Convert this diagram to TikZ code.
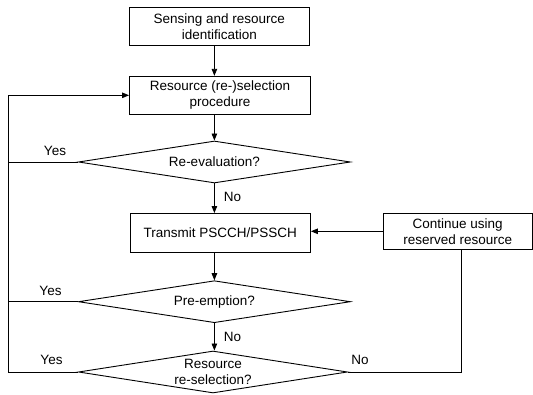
\documentclass[tikz,border=0pt]{standalone}
\usepackage{fontspec}
\setmainfont{Liberation Sans}
\usetikzlibrary{shapes.geometric,arrows.meta}
\begin{document}
\begin{tikzpicture}[x=1pt,y=-1pt,
  every node/.style={font=\fontsize{13.5}{16}\selectfont},
  procbox/.style={draw,line width=0.9pt,rectangle,align=center,inner sep=0pt},
  decision/.style={draw,line width=0.9pt,diamond,inner sep=0pt,minimum width=272pt,minimum height=42pt},
  conn/.style={line width=0.9pt},
  arr/.style={conn,-{Triangle[length=7pt,width=5.5pt]}},
  lbl/.style={inner sep=0pt}]
\useasboundingbox (0,0) rectangle (533,395);
\node[procbox,minimum width=179.5pt,minimum height=38pt] (b1) at (219.3,26.4) {Sensing and resource\\identification};
\node[procbox,minimum width=181pt,minimum height=38pt] (b2) at (220,95.3) {Resource (re-)selection\\procedure};
\node[decision,label={center:Re-evaluation?}] (d1) at (214.4,162) {};
\node[procbox,minimum width=180.5pt,minimum height=39pt] (b3) at (220.2,233) {Transmit PSCCH/PSSCH};
\node[procbox,minimum width=148.7pt,minimum height=36pt] (b4) at (457.7,231.3) {Continue using\\reserved resource};
\node[decision,label={center:Pre-emption?}] (d2) at (214.4,301.7) {};
\node[decision,minimum width=269pt,label={[align=center]center:Resource\\re-selection?}] (d3) at (213,372) {};
\coordinate (L) at (8,0);
\coordinate (R) at (461,0);
\draw[arr] (d1.north |- b1.south) -- (d1.north |- b2.north);
\draw[arr] (d1.north |- b2.south) -- (d1.north);
\draw[arr] (d1.south) -- (d1.south |- b3.north);
\draw[arr] (d2.north |- b3.south) -- (d2.north);
\draw[arr] (d2.south) -- (d2.south |- d3.north);
\draw[arr] (b4.west) -- (b4.west -| b3.east);
\draw[conn] (d1.west) -- (d1.west -| L);
\draw[conn] (d2.west) -- (d2.west -| L);
\draw[arr] (d3.west) -- (d3.west -| L) -- (L |- b2.west) -- (b2.west);
\draw[conn] (d3.east) -- (d3.east -| R) -- (R |- b4.south);
\node[lbl] (y1) at (55,150.5) {Yes};
\node[lbl] (y2) at (50.5,291) {Yes};
\node[lbl] (y3) at (51.5,360) {Yes};
\node[lbl] (n1) at (232.5,197) {No};
\node[lbl] (n2) at (232.5,337) {No};
\node[lbl] (n3) at (360,360) {No};
\end{tikzpicture}
\end{document}
